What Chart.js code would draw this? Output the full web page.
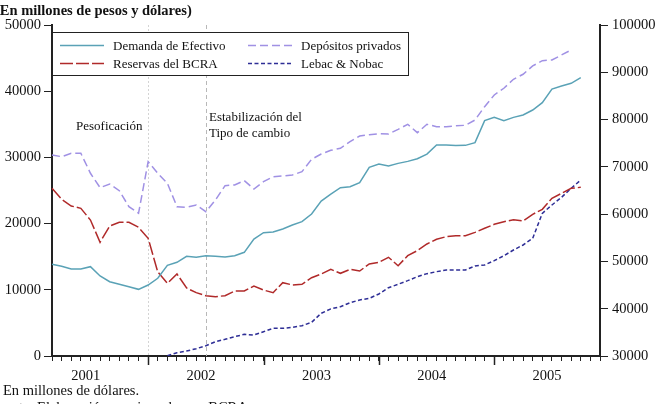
<!DOCTYPE html>
<html>
<head>
<meta charset="utf-8">
<script src="https://cdn.jsdelivr.net/npm/chart.js@4"></script>
<style>
  body { margin: 0; background: #fff; }
  #wrap { width: 660px; height: 404px; }
</style>
</head>
<body>
<div id="wrap"><canvas id="chart" width="660" height="404"></canvas></div>
<script>
// meses (mar-2001 .. dic-2005)
const months = [
  "2001-03", "2001-04", "2001-05", "2001-06", "2001-07", "2001-08", "2001-09", "2001-10", "2001-11", "2001-12",
  "2002-01", "2002-02", "2002-03", "2002-04", "2002-05", "2002-06", "2002-07", "2002-08", "2002-09", "2002-10", "2002-11", "2002-12",
  "2003-01", "2003-02", "2003-03", "2003-04", "2003-05", "2003-06", "2003-07", "2003-08", "2003-09", "2003-10", "2003-11", "2003-12",
  "2004-01", "2004-02", "2004-03", "2004-04", "2004-05", "2004-06", "2004-07", "2004-08", "2004-09", "2004-10", "2004-11", "2004-12",
  "2005-01", "2005-02", "2005-03", "2005-04", "2005-05", "2005-06", "2005-07", "2005-08", "2005-09", "2005-10", "2005-11", "2005-12"
];

// eje izquierdo
const demandaEfectivo = [
  13850, 13550, 13140, 13140, 13490, 12085, 11220, 10830, 10470, 10070,
  10725, 11740, 13700, 14150, 15050, 14900, 15150, 15050, 14950, 15150, 15660, 17670,
  18630, 18730, 19180, 19790, 20290, 21450, 23410, 24450, 25430, 25580, 26180, 28500,
  29000, 28700, 29100, 29400, 29800, 30500, 31870, 31870, 31800, 31820, 32230, 35550,
  36050, 35550, 36050, 36400, 37160, 38270, 40330, 40790, 41190, 42050, null, null
];
const reservasBCRA = [
  25330, 23670, 22660, 22310, 20540, 17180, 19640, 20190, 20190, 19440,
  17780, 12700, 10980, 12390, 10270, 9570, 9110, 8960, 9110, 9820, 9820, 10570,
  9970, 9570, 11080, 10730, 10830, 11830, 12390, 13090, 12490, 13090, 12840, 13900,
  14150, 14910, 13640, 15150, 15910, 16920, 17630, 18020, 18150, 18170, 18680, 19290,
  19890, 20290, 20590, 20390, 21400, 22160, 23820, 24580, 25330, 25480, null, null
];
const lebacNobac = [
  null, null, null, null, null, null, null, null, null, null,
  null, null, 50, 500, 755, 1100, 1560, 2160, 2520, 2920, 3270, 3170,
  3670, 4180, 4180, 4330, 4580, 5090, 6450, 7120, 7450, 8050, 8460, 8710,
  9370, 10320, 10830, 11380, 11980, 12440, 12740, 12990, 12990, 12990, 13600, 13750,
  14400, 15150, 16010, 16770, 17780, 21550, 22810, 23970, 25330, 26590, null, null
];
// eje derecho
const depositosPrivados = [
  72510, 72150, 72870, 72870, 68640, 65600, 66380, 64960, 61580, 60180,
  71100, 68640, 66530, 61580, 61450, 61940, 60520, 63000, 66020, 66170, 67080, 65320,
  66870, 67920, 68070, 68280, 68980, 71600, 72720, 73500, 73930, 75330, 76530, 76800,
  77020, 76950, 77940, 79000, 77230, 79000, 78500, 78500, 78680, 78790, 79910, 82730,
  85200, 86620, 88520, 89580, 91340, 92460, 92600, 93660, 94720, null, null, null
];

const leftTicks = [0, 10000, 20000, 30000, 40000, 50000];
const rightTicks = [30000, 40000, 50000, 60000, 70000, 80000, 90000, 100000];
const eventMonths = ["2002-01", "2002-07"];

const SERIF = '"Liberation Serif", "Times New Roman", serif';
const tickFont = { family: SERIF, size: 14.5 };

// lineas verticales, leyenda y textos
const decorPlugin = {
  id: "decor",
  beforeDraw(chart) {
    const ctx = chart.ctx;
    ctx.save();
    ctx.fillStyle = "#fff";
    ctx.fillRect(0, 0, chart.width, chart.height);
    ctx.restore();
  },
  beforeDatasetsDraw(chart) {
    const { ctx, chartArea } = chart;
    const x = chart.scales.x;
    ctx.save();
    eventMonths.forEach((m, i) => {
      const px = Math.round(x.getPixelForValue(months.indexOf(m))) + 0.5;
      ctx.strokeStyle = i === 0 ? "#d4d4d4" : "#b8b8b8";
      ctx.setLineDash(i === 0 ? [2, 2] : [4, 3]);
      ctx.lineWidth = 1;
      ctx.beginPath();
      ctx.moveTo(px, chartArea.top);
      ctx.lineTo(px, chartArea.bottom);
      ctx.stroke();
    });
    ctx.restore();
  },
  afterDraw(chart) {
    const { ctx, chartArea } = chart;
    const x = chart.scales.x;
    ctx.save();

    // marcas largas al inicio de cada año
    ctx.strokeStyle = "#222";
    ctx.lineWidth = 1.5;
    months.forEach((m, i) => {
      if (m.endsWith("-01")) {
        const px = Math.round(x.getPixelForValue(i)) + 0.5;
        ctx.beginPath();
        ctx.moveTo(px, chartArea.bottom);
        ctx.lineTo(px, chartArea.bottom + 9);
        ctx.stroke();
      }
    });

    // leyenda
    const bx = chartArea.left, by = 32, bw = 356, bh = 43;
    ctx.fillStyle = "#fff";
    ctx.fillRect(bx, by, bw, bh);
    ctx.strokeStyle = "#222";
    ctx.lineWidth = 1;
    ctx.setLineDash([]);
    ctx.strokeRect(bx + 0.5, by + 0.5, bw, bh);
    const colX = [60, 248];
    const rowY = [45.5, 63.5];
    ctx.font = `13px ${SERIF}`;
    ctx.textBaseline = "alphabetic";
    chart.data.datasets.forEach((ds, i) => {
      const cx = colX[Math.floor(i / 2)];
      const cy = rowY[i % 2];
      ctx.strokeStyle = ds.borderColor;
      ctx.lineWidth = 1.5;
      ctx.setLineDash(ds.borderDash || []);
      ctx.beginPath();
      ctx.moveTo(cx, cy);
      ctx.lineTo(cx + 44, cy);
      ctx.stroke();
      ctx.setLineDash([]);
      ctx.fillStyle = "#111";
      ctx.fillText(ds.label, cx + 53, cy + 4.5);
    });

    // anotaciones
    ctx.fillStyle = "#111";
    ctx.font = `13px ${SERIF}`;
    ctx.fillText("Pesoficación", 76, 129.5);
    ctx.fillText("Estabilización del", 209, 120.5);
    ctx.fillText("Tipo de cambio", 209, 137);

    // titulo y notas
    ctx.font = `bold 14.5px ${SERIF}`;
    ctx.fillText("(En millones de pesos y dólares)", -5, 14.5);
    ctx.font = `14.5px ${SERIF}`;
    ctx.fillText("En millones de dólares.", 3, 394.5);
    ctx.fillText("Fuente: Elaboración propia en base a BCRA.", -10, 412);
    ctx.restore();
  },
};

new Chart(document.getElementById("chart"), {
  type: "line",
  data: {
    labels: months,
    datasets: [
      {
        label: "Demanda de Efectivo",
        data: demandaEfectivo,
        borderColor: "#5aa2b6",
        yAxisID: "y",
      },
      {
        label: "Reservas del BCRA",
        data: reservasBCRA,
        borderColor: "#b02a2a",
        borderDash: [13, 3],
        yAxisID: "y",
      },
      {
        label: "Depósitos privados",
        data: depositosPrivados,
        borderColor: "#a091e4",
        borderDash: [8, 4],
        yAxisID: "y1",
      },
      {
        label: "Lebac & Nobac",
        data: lebacNobac,
        borderColor: "#2e2e96",
        borderDash: [4, 2.5],
        yAxisID: "y",
      },
    ],
  },
  options: {
    responsive: false,
    animation: false,
    layout: { padding: { top: 25, left: 0, right: 0, bottom: 0 } },
    elements: {
      point: { radius: 0 },
      line: { borderWidth: 1.5, tension: 0, fill: false },
    },
    plugins: {
      legend: { display: false },
      title: { display: false },
      tooltip: { enabled: false },
    },
    scales: {
      x: {
        type: "category",
        offset: false,
        grid: { drawOnChartArea: false, tickLength: 5, tickColor: "#222", tickWidth: 1 },
        border: { color: "#222", width: 2 },
        ticks: {
          autoSkip: false,
          maxRotation: 0,
          minRotation: 0,
          labelOffset: 4.8,
          padding: 6,
          color: "#111",
          font: tickFont,
          callback(value) {
            const lbl = this.getLabelForValue(value);
            return lbl.endsWith("-06") ? lbl.slice(0, 4) : "";
          },
        },
        afterFit: (s) => { s.height = 48; },
      },
      y: {
        position: "left",
        min: leftTicks[0],
        max: leftTicks[leftTicks.length - 1],
        afterBuildTicks: (s) => { s.ticks = leftTicks.map((v) => ({ value: v })); },
        grid: { drawOnChartArea: false, tickLength: 8, tickColor: "#222" },
        border: { color: "#222", width: 2 },
        ticks: { color: "#111", font: tickFont, padding: 3, callback: (v) => String(v) },
        afterFit: (s) => { s.width = 52; },
      },
      y1: {
        position: "right",
        min: rightTicks[0],
        max: rightTicks[rightTicks.length - 1],
        afterBuildTicks: (s) => { s.ticks = rightTicks.map((v) => ({ value: v })); },
        grid: { drawOnChartArea: false, tickLength: 8, tickColor: "#222" },
        border: { color: "#222", width: 2 },
        ticks: { color: "#111", font: tickFont, padding: 4, callback: (v) => String(v) },
        afterFit: (s) => { s.width = 60; },
      },
    },
  },
  plugins: [decorPlugin],
});
</script>
</body>
</html>
